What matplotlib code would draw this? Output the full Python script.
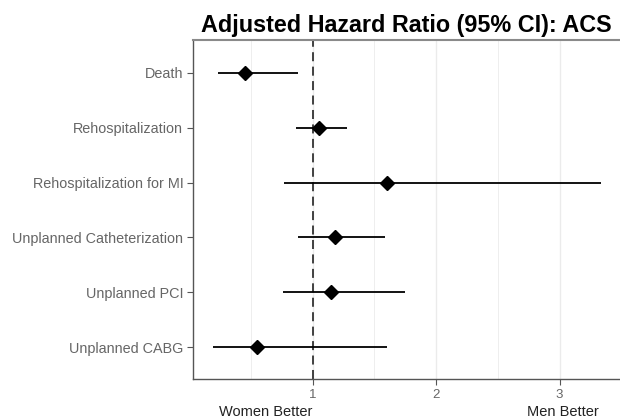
import matplotlib
matplotlib.use("Agg")
import matplotlib.pyplot as plt

plt.rcParams['font.family'] = ['Liberation Sans', 'DejaVu Sans']

# data (hazard ratio, lower and upper 95% CI)
outcomes = ["Death", "Rehospitalization", "Rehospitalization for MI",
            "Unplanned Catheterization", "Unplanned PCI", "Unplanned CABG"]
hr = [0.455, 1.05, 1.60, 1.18, 1.15, 0.55]
ci_low = [0.236, 0.865, 0.77, 0.88, 0.76, 0.19]
ci_high = [0.88, 1.28, 3.34, 1.59, 1.745, 1.60]
xticks = [1, 2, 3]
side_labels = ["Women Better", "Men Better"]
side_pos = [0.62, 3.03]

ypos = list(range(len(outcomes), 0, -1))

fig = plt.figure(figsize=(6.2, 4.2), dpi=100)
ax = fig.add_axes([193/620, 1 - 379/420, (620 - 193)/620, (379 - 40)/420])

# grid
for g in [0.5, 1.5, 2.5]:
    ax.axvline(g, color="#EBEBEB", lw=0.6, zorder=0)
for g in xticks:
    ax.axvline(g, color="#EBEBEB", lw=1.0, zorder=0)

ax.axvline(1, color="#333333", lw=1.3, ls=(0, (5, 3)), zorder=1)

ax.hlines(ypos, ci_low, ci_high, color="black", lw=1.3, zorder=2)
ax.plot(hr, ypos, "D", color="black", ms=7, zorder=3)

ax.set_xlim(0.031, 3.49)
ax.set_ylim(0.42, 6.6)
ax.set_xticks(xticks)
ax.set_xticklabels([str(t) for t in xticks])
ax.set_yticks(ypos)
ax.set_yticklabels(outcomes)
ax.tick_params(axis="both", colors="#555555", length=4, width=0.8)
ax.tick_params(axis="x", labelcolor="#666666", labelsize=9.5, pad=3)
ax.tick_params(axis="y", labelcolor="#666666", labelsize=10.4, pad=3)

for s in ["left", "bottom"]:
    ax.spines[s].set_color("#555555")
    ax.spines[s].set_linewidth(1.0)
ax.spines["top"].set_color("#8A8A8A")
ax.spines["top"].set_linewidth(1.5)
ax.spines["right"].set_visible(False)

for lab, p in zip(side_labels, side_pos):
    ax.text(p, -0.097, lab, transform=ax.get_xaxis_transform(),
            ha="center", va="center", fontsize=10.5, color="#222222")

ax.set_title("Adjusted Hazard Ratio (95% CI): ACS", fontsize=16.8,
             fontweight="bold", pad=6)

fig.savefig("out.png", dpi=100)
